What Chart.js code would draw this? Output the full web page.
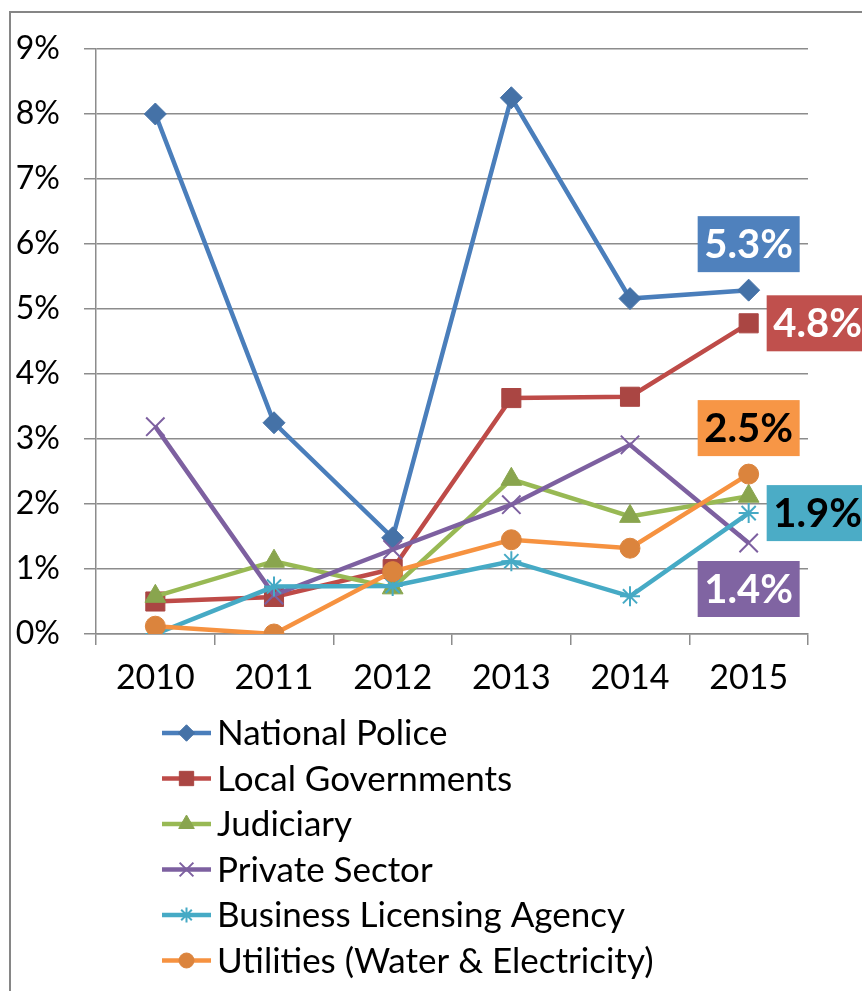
<!DOCTYPE html>
<html>
<head>
<meta charset="utf-8">
<script src="https://cdn.jsdelivr.net/npm/chart.js@4.4.1/dist/chart.umd.min.js"></script>
<style>
  html, body { margin: 0; padding: 0; background: #fff; }
  #wrap { width: 862px; height: 991px; }
</style>
</head>
<body>
<div id="wrap"><canvas id="myChart" width="862" height="991"></canvas></div>
<script>
// Data (percent)
const years = ['2010', '2011', '2012', '2013', '2014', '2015'];
const seriesNames = ['National Police', 'Local Governments', 'Judiciary', 'Private Sector', 'Business Licensing Agency', 'Utilities (Water & Electricity)'];
const nationalPolice = [8.0, 3.25, 1.48, 8.25, 5.16, 5.29];
const localGovernments = [0.5, 0.57, 1.0, 3.63, 3.65, 4.78];
const judiciary = [0.58, 1.12, 0.71, 2.38, 1.81, 2.12];
const privateSector = [3.19, 0.6, 1.3, 1.99, 2.91, 1.4];
const businessLicensing = [0.0, 0.73, 0.74, 1.12, 0.58, 1.86];
const utilities = [0.12, 0.0, 0.96, 1.45, 1.32, 2.46];
const yMin = 0, yMax = 9, yStep = 1;

const FONT = 'Lato, "Open Sans", sans-serif';
const lineColors = ['#4A7EBB', '#BE4B48', '#98B954', '#7D60A0', '#46AAC5', '#F69240'];
const markColors = ['#4572A7', '#AA4643', '#89A54E', '#71588F', '#4198AF', '#DB843D'];
const boxColors  = ['#4F81BD', '#C0504D', null, '#8064A2', '#4BACC6', '#F79646'];
const boxText    = ['#fff', '#fff', null, '#fff', '#000', '#000'];
const boxPlace   = ['above', 'right', null, 'below', 'right', 'above'];
const styles = [
    { pointStyle: 'rectRot', radius: 11, border: 1 },
    { pointStyle: 'rect', radius: 13.5, border: 1 },
    { pointStyle: 'triangle', radius: 12, border: 1 },
    { pointStyle: 'crossRot', radius: 13, border: 2 },
    { pointStyle: 'star', radius: 10, border: 2 },
    { pointStyle: 'circle', radius: 10, border: 1 }
];
const allValues = [nationalPolice, localGovernments, judiciary, privateSector, businessLicensing, utilities];

const datasets = allValues.map((vals, i) => ({
    label: seriesNames[i],
    data: vals,
    borderColor: lineColors[i],
    backgroundColor: markColors[i],
    borderWidth: 4.5,
    pointStyle: styles[i].pointStyle,
    pointRadius: styles[i].radius,
    pointBorderWidth: styles[i].border,
    pointBorderColor: styles[i].border > 1 ? lineColors[i] : markColors[i],
    pointBackgroundColor: markColors[i],
    tension: 0,
    order: 6 - i
}));

// frame, end-value boxes and legend
const extras = {
    id: 'extras',
    afterDraw(chart) {
        const ctx = chart.ctx;
        ctx.save();
        ctx.strokeStyle = '#868686';
        ctx.lineWidth = 2;
        ctx.strokeRect(10, 12, 900, 1100);

        // end labels
        ctx.font = 'bold 40px ' + FONT;
        ctx.textAlign = 'center';
        ctx.textBaseline = 'middle';
        chart.data.datasets.forEach((ds, i) => {
            if (!boxPlace[i]) return;
            const pt = chart.getDatasetMeta(i).data[ds.data.length - 1];
            const w = 102, h = 56, gap = 18;
            let bx, by;
            if (boxPlace[i] === 'above') { bx = pt.x - w / 2; by = pt.y - gap - h; }
            else if (boxPlace[i] === 'below') { bx = pt.x - w / 2; by = pt.y + gap; }
            else { bx = pt.x + gap; by = pt.y - h / 2; }
            ctx.fillStyle = boxColors[i];
            ctx.fillRect(bx, by, w, h);
            ctx.fillStyle = boxText[i];
            ctx.fillText(ds.data[ds.data.length - 1].toFixed(1) + '%', bx + w / 2, by + h / 2 + 1);
        });

        // legend
        const lx0 = 162, lx1 = 211, tx = 217, y0 = 733, step = 45.5;
        ctx.textAlign = 'left';
        ctx.font = '35px ' + FONT;
        chart.data.datasets.forEach((ds, i) => {
            const y = y0 + i * step;
            ctx.strokeStyle = lineColors[i];
            ctx.lineWidth = 4.5;
            ctx.beginPath();
            ctx.moveTo(lx0, y);
            ctx.lineTo(lx1, y);
            ctx.stroke();
            ctx.fillStyle = markColors[i];
            ctx.strokeStyle = styles[i].border > 1 ? lineColors[i] : markColors[i];
            ctx.lineWidth = styles[i].border;
            Chart.helpers.drawPoint(ctx, {
                pointStyle: styles[i].pointStyle,
                radius: styles[i].radius * 0.75,
                rotation: 0,
                borderWidth: styles[i].border
            }, (lx0 + lx1) / 2, y);
            ctx.fillStyle = '#000';
            ctx.fillText(ds.label, tx, y + 1);
        });
        ctx.restore();
    }
};

new Chart(document.getElementById('myChart'), {
    type: 'line',
    data: { labels: years, datasets },
    options: {
        responsive: false,
        animation: false,
        devicePixelRatio: 1,
        layout: { padding: { left: 0, top: 49, right: 54, bottom: 297 } },
        plugins: { legend: { display: false }, tooltip: { enabled: false } },
        scales: {
            x: {
                offset: true,
                grid: { offset: true, drawOnChartArea: false, drawTicks: true, tickLength: 11, color: '#8c8c8c', lineWidth: 1.5 },
                border: { color: '#8c8c8c', width: 1.5 },
                ticks: { color: '#000', font: { family: FONT, size: 34 }, padding: 13, maxRotation: 0 },
                afterFit: s => { s.height = 60; }
            },
            y: {
                min: yMin, max: yMax,
                grid: { color: '#8c8c8c', lineWidth: 1.5, tickLength: 12 },
                border: { color: '#8c8c8c', width: 1.5 },
                ticks: { stepSize: yStep, color: '#000', font: { family: FONT, size: 32 }, padding: 24, callback: v => v + '%' },
                afterFit: s => { s.width = 96; }
            }
        }
    },
    plugins: [extras]
});
</script>
</body>
</html>
